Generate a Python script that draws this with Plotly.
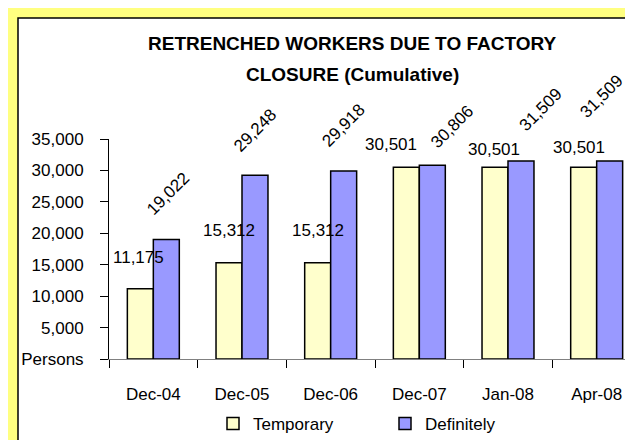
import plotly.graph_objects as go

categories = ["Dec-04", "Dec-05", "Dec-06", "Dec-07", "Jan-08", "Apr-08"]
temporary = [11175, 15312, 15312, 30501, 30501, 30501]
definitely = [19022, 29248, 29918, 30806, 31509, 31509]
y_tick_vals = [0, 5000, 10000, 15000, 20000, 25000, 30000, 35000]
y_tick_text = ["Persons", "5,000", "10,000", "15,000", "20,000", "25,000", "30,000", "35,000"]
title_line1 = "RETRENCHED WORKERS DUE TO FACTORY"
title_line2 = "CLOSURE (Cumulative)"

# label offsets in pixels (style): (dx, dy) relative to bar top centre
temp_label_offsets = [(-2, 31), (0, 32), (0, 32), (-15, 23), (-1, 18), (-5, 20)]
def_label_offsets = [(2, 46), (0, 45), (0, 45), (20, 39), (20, 51), (-8, 64)]

W, H = 633, 440
L, R, T, B = 101, 0, 131, 89
pw, ph = W - L - R, H - T - B
BARGAP = 0.414
bar_px = (1 - BARGAP) * pw / len(categories) / 2

FONT = "Liberation Sans Narrow, Arial Narrow, Liberation Sans, Arial, sans-serif"
FS = 17

def px2x(px):
    return (px - L) / pw

def px2y(py):
    return (H - B - py) / ph

fig = go.Figure()
fig.add_trace(go.Bar(name="Temporary", x=categories, y=temporary,
                     marker=dict(color="#FFFFCC", line=dict(color="black", width=1.5))))
fig.add_trace(go.Bar(name="Definitely", x=categories, y=definitely,
                     marker=dict(color="#9999FF", line=dict(color="black", width=1.5))))

annotations = []
for i, c in enumerate(categories):
    dx, dy = temp_label_offsets[i]
    annotations.append(dict(x=c, y=temporary[i], xref="x", yref="y",
                            text=f"{temporary[i]:,}", showarrow=False,
                            xanchor="center", yanchor="middle",
                            xshift=-bar_px / 2 + dx, yshift=dy,
                            font=dict(family=FONT, size=FS, color="black")))
    dx, dy = def_label_offsets[i]
    annotations.append(dict(x=c, y=definitely[i], xref="x", yref="y",
                            text=f"{definitely[i]:,}", showarrow=False,
                            xanchor="center", yanchor="middle", textangle=-45,
                            xshift=bar_px / 2 + dx, yshift=dy,
                            font=dict(family=FONT, size=FS, color="black")))

annotations.append(dict(x=px2x(344.5), y=px2y(35), xref="paper", yref="paper",
                        text=f"<b>{title_line1}</b>", showarrow=False,
                        xanchor="center", yanchor="middle",
                        font=dict(family=FONT, size=19, color="black")))
annotations.append(dict(x=px2x(344.5), y=px2y(67), xref="paper", yref="paper",
                        text=f"<b>{title_line2}</b>", showarrow=False,
                        xanchor="center", yanchor="middle",
                        font=dict(family=FONT, size=19, color="black")))

shapes = [dict(type="rect", xref="paper", yref="paper", layer="below",
               x0=px2x(10), x1=px2x(720), y0=px2y(10), y1=px2y(520),
               fillcolor="white", line=dict(color="black", width=1.5))]

fig.update_layout(
    width=W, height=H,
    margin=dict(l=L, r=R, t=T, b=B, pad=0, autoexpand=False),
    paper_bgcolor="#FFFF80",
    plot_bgcolor="rgba(0,0,0,0)",
    barmode="group", bargap=BARGAP, bargroupgap=0,
    font=dict(family=FONT, size=FS, color="black"),
    showlegend=True,
    legend=dict(orientation="h", x=px2x(205), xanchor="left",
                y=px2y(416), yanchor="middle",
                bgcolor="rgba(0,0,0,0)", entrywidth=127, entrywidthmode="pixels",
                font=dict(family=FONT, size=FS, color="black"),
                traceorder="normal"),
    annotations=annotations,
    shapes=shapes,
    xaxis=dict(type="category", showgrid=False, showline=True, linecolor="#808080",
               linewidth=1, ticks="outside", tickson="boundaries", ticklen=8,
               tickcolor="black", ticklabelstandoff=20, automargin=False,
               tickfont=dict(family=FONT, size=FS, color="black")),
    yaxis=dict(range=[0, 35000], tickvals=y_tick_vals, ticktext=y_tick_text,
               showgrid=False, zeroline=False, showline=True, linecolor="black",
               linewidth=1, ticks="outside", ticklen=8, tickcolor="black",
               ticklabelstandoff=13, automargin=False,
               tickfont=dict(family=FONT, size=FS, color="black")),
)

fig.write_html("out.html")
